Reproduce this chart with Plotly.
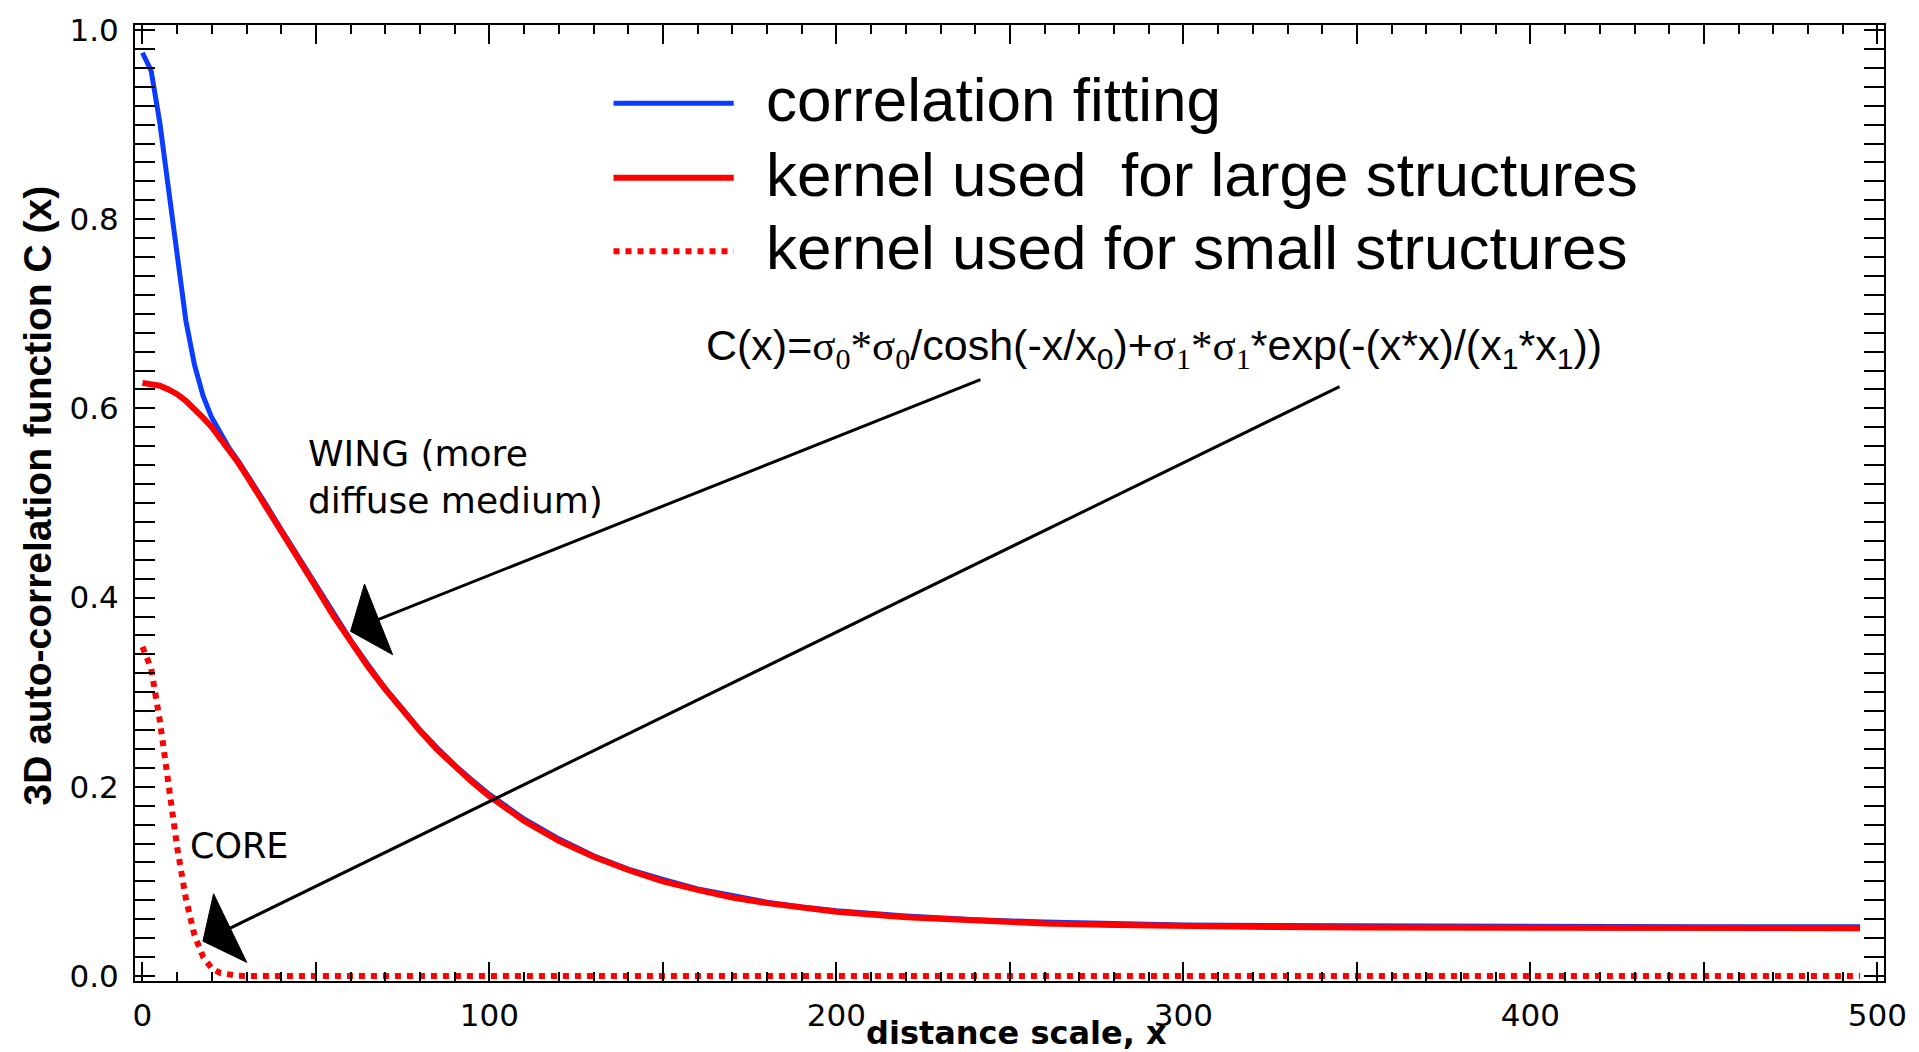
import plotly.graph_objects as go

# ---------------- data ----------------
x_vals = [0, 2.5, 5, 7.5, 10, 12.5, 15, 17.5, 20, 22.5, 25, 27.5, 30, 35, 40, 45, 50,
          55, 60, 65, 70, 75, 80, 85, 90, 95, 100, 110, 120, 130, 140, 150, 160, 170,
          180, 190, 200, 220, 240, 260, 280, 300, 325, 350, 400, 450, 495]

fit_vals = [0.976, 0.957, 0.902, 0.830, 0.756, 0.693, 0.646, 0.613, 0.590, 0.573, 0.558,
            0.545, 0.531, 0.502, 0.472, 0.443, 0.413, 0.383, 0.355, 0.329, 0.304, 0.282,
            0.260, 0.241, 0.223, 0.207, 0.192, 0.166, 0.145, 0.127, 0.113, 0.102, 0.092,
            0.085, 0.078, 0.073, 0.069, 0.0635, 0.0595, 0.057, 0.0555, 0.054, 0.0535,
            0.053, 0.0525, 0.052, 0.052]

large_vals = [0.627, 0.626, 0.624, 0.620, 0.615, 0.608, 0.600, 0.590, 0.580, 0.568, 0.556,
              0.543, 0.529, 0.500, 0.471, 0.441, 0.411, 0.381, 0.354, 0.327, 0.303, 0.280,
              0.259, 0.239, 0.221, 0.205, 0.190, 0.164, 0.143, 0.126, 0.112, 0.100, 0.091,
              0.083, 0.077, 0.072, 0.068, 0.062, 0.058, 0.0555, 0.054, 0.0525, 0.0518,
              0.0513, 0.0508, 0.0506, 0.0505]

small_vals = [0.348, 0.325, 0.270, 0.202, 0.136, 0.082, 0.043, 0.020, 0.008, 0.003, 0.001,
              0.0003, 0, 0, 0, 0, 0, 0, 0, 0, 0, 0, 0, 0, 0, 0, 0, 0, 0, 0, 0, 0, 0, 0,
              0, 0, 0, 0, 0, 0, 0, 0, 0, 0, 0, 0, 0]

legend_labels = ["correlation fitting",
                 "kernel used\u00a0 for large structures",
                 "kernel used for small structures"]

x_tick_vals = [0, 100, 200, 300, 400, 500]
x_tick_text = ["0", "100", "200", "300", "400", "500"]
y_tick_vals = [0.0, 0.2, 0.4, 0.6, 0.8, 1.0]
y_tick_text = ["0.0", "0.2", "0.4", "0.6", "0.8", "1.0"]

BLUE = "#0a3cff"
RED = "#ff0000"
TICK_FONT = dict(family="DejaVu Sans", size=31, color="black")
X_RANGE = [-2.15, 501.9]
Y_RANGE = [-0.0053, 1.0053]

fig = go.Figure()
fig.add_trace(go.Scatter(x=x_vals, y=fit_vals, mode="lines",
                         line=dict(color=BLUE, width=5), showlegend=False))
fig.add_trace(go.Scatter(x=x_vals, y=large_vals, mode="lines",
                         line=dict(color=RED, width=6), showlegend=False))
fig.add_trace(go.Scatter(x=x_vals, y=small_vals, mode="lines",
                         line=dict(color=RED, width=6, dash="6px,6px"), showlegend=False))
# carrier for the secondary x axis that draws the unlabeled ticks at 50, 150, ...
fig.add_trace(go.Scatter(x=[x_vals[0]], y=[fit_vals[0]], mode="markers", xaxis="x2",
                         marker=dict(opacity=0), hoverinfo="skip", showlegend=False))

# ---------------- legend drawn manually ----------------
leg_x0, leg_x1, leg_tx = 135.75, 170.4, 179.0
leg_y = [0.9226, 0.8437, 0.766]
leg_styles = [dict(color=BLUE, width=5), dict(color=RED, width=6),
              dict(color=RED, width=6, dash="6px,6px")]
shapes = []
annotations = []
for yy, st, lab in zip(leg_y, leg_styles, legend_labels):
    shapes.append(dict(type="line", xref="x", yref="y", x0=leg_x0, x1=leg_x1,
                       y0=yy, y1=yy, line=st))
    annotations.append(dict(x=leg_tx, y=yy + 0.004, xref="x", yref="y", text=lab,
                            showarrow=False, xanchor="left", yanchor="middle",
                            font=dict(family="Liberation Sans", size=62, color="black")))

# ---------------- arrows ----------------
arrows = [
    ((241.5, 0.6305), (68.06, 0.377), [(64.0, 0.4143), (59.98, 0.3643), (72.1, 0.3397)]),
    ((345.0, 0.6231), (25.29, 0.0506), [(20.5, 0.0869), (17.43, 0.0368), (30.05, 0.0144)]),
]
for (sx, sy), (bx, by), tri in arrows:
    shapes.append(dict(type="line", xref="x", yref="y", x0=sx, y0=sy, x1=bx, y1=by,
                       line=dict(color="black", width=3)))
    path = "M {} {} L {} {} L {} {} Z".format(tri[0][0], tri[0][1], tri[1][0], tri[1][1],
                                               tri[2][0], tri[2][1])
    shapes.append(dict(type="path", xref="x", yref="y", path=path,
                       fillcolor="black", line=dict(color="black", width=1)))

serif = "<span style='font-family:Liberation Serif'>"
formula = ("C(x)=" + serif + "σ<sub>0</sub>*σ<sub>0</sub></span>/cosh(-x/x<sub>0</sub>)+"
           + serif + "σ<sub>1</sub>*σ<sub>1</sub></span>*exp(-(x*x)/(x<sub>1</sub>*x<sub>1</sub>))")
annotations.append(dict(x=161.8, y=0.663, xref="x", yref="y", text=formula,
                        showarrow=False, xanchor="left", yanchor="middle",
                        font=dict(family="Liberation Sans", size=43, color="black")))

annotations.append(dict(x=47.0, y=0.5758, xref="x", yref="y",
                        text="WING (more<br>diffuse medium)", align="left",
                        showarrow=False, xanchor="left", yanchor="top",
                        font=dict(family="DejaVu Sans", size=36, color="black")))
annotations.append(dict(x=27.95, y=0.1376, xref="x", yref="y", text="CORE",
                        showarrow=False, xanchor="center", yanchor="middle",
                        font=dict(family="DejaVu Sans", size=35, color="black")))

# axis titles (paper coordinates)
annotations.append(dict(x=0.504, y=-0.054, xref="paper", yref="paper",
                        text="<b>distance scale, x</b>",
                        showarrow=False, xanchor="center", yanchor="middle",
                        font=dict(family="DejaVu Sans", size=32, color="black")))
annotations.append(dict(x=-0.0563, y=0.5073, xref="paper", yref="paper",
                        text="<b>3D auto-correlation function C (x)</b>", textangle=-90,
                        showarrow=False, xanchor="center", yanchor="middle",
                        font=dict(family="Liberation Sans", size=39, color="black")))

axis_common = dict(showgrid=False, zeroline=False, tickcolor="black", tickwidth=2,
                   ticks="inside")

fig.update_layout(
    width=1919, height=1052,
    margin=dict(l=135, r=26, t=19, b=71),
    paper_bgcolor="white", plot_bgcolor="white",
    showlegend=False,
    shapes=shapes, annotations=annotations,
    xaxis=dict(range=X_RANGE, showline=True, linecolor="black", linewidth=2,
               mirror="allticks", ticklen=19,
               tickmode="array", tickvals=x_tick_vals, ticktext=x_tick_text,
               tickfont=TICK_FONT, ticklabelstandoff=6,
               minor=dict(tickmode="linear", tick0=0, dtick=10, ticks="inside",
                          ticklen=9, tickwidth=2, tickcolor="black", showgrid=False),
               **axis_common),
    xaxis2=dict(range=X_RANGE, overlaying="x", anchor="y", side="bottom",
                showline=False, mirror="allticks", ticklen=19, showticklabels=False,
                tickmode="linear", tick0=50, dtick=100, **axis_common),
    yaxis=dict(range=Y_RANGE, showline=True, linecolor="black", linewidth=2,
               mirror="allticks", ticklen=20,
               tickmode="array", tickvals=y_tick_vals, ticktext=y_tick_text,
               tickfont=TICK_FONT, ticklabelstandoff=8,
               minor=dict(tickmode="linear", tick0=0, dtick=0.02, ticks="inside",
                          ticklen=10, tickwidth=2, tickcolor="black", showgrid=False),
               **axis_common),
)

fig.write_html("out.html")
